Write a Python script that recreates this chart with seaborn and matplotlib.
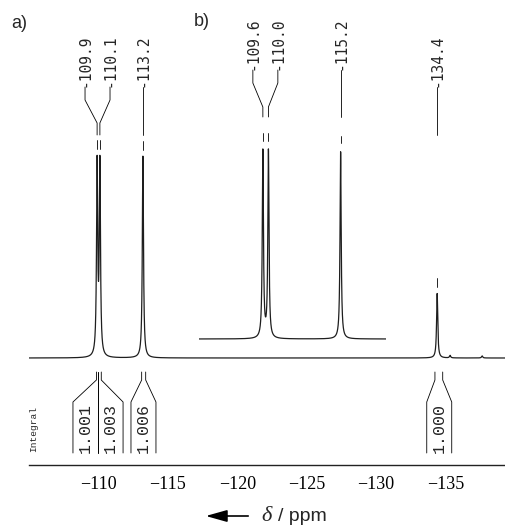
import numpy as np
import pandas as pd
import seaborn as sns
import matplotlib.pyplot as plt

# ---- data ----
# spectrum a): peak positions (ppm) and relative heights
peaks_a_ppm = [-109.9, -110.1, -113.2, -134.4, -135.33, -137.64]
peaks_a_height = [0.92, 0.92, 0.97, 0.31, 0.012, 0.01]
labels_a = ["-109.9", "-110.1", "-113.2", "-134.4"]
labels_a_peak = [-109.9, -110.1, -113.2, -134.4]
labels_a_pos = [-109.03, -110.83, -113.2, -134.4]

# spectrum b) (inset, drawn on its own ppm scale)
peaks_b_ppm = [-109.6, -110.0, -115.2]
peaks_b_height = [0.9, 0.9, 0.9]
labels_b = ["-109.6", "-110.0", "-115.2"]
labels_b_pos = [-108.88, -110.68, -115.2]

# integrals of spectrum a)
int_values = ["1.001", "1.003", "1.006", "1.000"]
int_start = [-109.85, -109.99, -113.11, -134.24]
int_end = [-109.99, -110.2, -113.4, -134.8]
int_box_lo = [-108.16, -109.99, -112.34, -133.65]
int_box_hi = [-109.99, -111.77, -114.14, -135.45]

xticks = [-105, -110, -115, -120, -125, -130, -135]
xtick_labels = ["", "\u2212110", "\u2212115", "\u2212120", "\u2212125", "\u2212130", "\u2212135"]


def lorentz(ppm, centers, heights, hw=0.05):
    y = np.zeros_like(ppm)
    for c, h in zip(centers, heights):
        y += h / (1 + ((ppm - c) / hw) ** 2)
    return y


sns.set_style("white")
plt.rcParams["font.family"] = ["DejaVu Sans"]

W, H = 506, 526
fig = plt.figure(figsize=(W / 100, H / 100), dpi=100)


def fx(px):
    return px / W


def fy(py):
    return 1 - py / H


line_col = "#1e1e1e"

# ---- main spectrum a) ----
ax = fig.add_axes([fx(29.1), fy(465), fx(506) - fx(29.1), fy(0) - fy(465)])
ax.patch.set_alpha(0)
scale = 208.0
ax.set_xlim(-105, -139.36)
ax.set_ylim(-(465 - 358) / scale, 358 / scale)


def ya(py):
    return (358 - py) / scale


ppm_a = np.linspace(-105, -139.36, 40000)
df_a = pd.DataFrame({"ppm": ppm_a, "intensity": lorentz(ppm_a, peaks_a_ppm, peaks_a_height)})
sns.lineplot(data=df_a, x="ppm", y="intensity", ax=ax, color=line_col,
             linewidth=0.9, estimator=None, sort=False)

# peak labels with connectors
for lab, pk, pos in zip(labels_a, labels_a_peak, labels_a_pos):
    ax.plot([pos, pos, pk, pk], [ya(87), ya(100), ya(123), ya(135)],
            color="black", lw=0.6)
    ax.text(pos, ya(87), lab, rotation=90, ha="center", va="bottom",
            family="DejaVu Sans Mono", fontsize=10.5)
# peak pick marks
for pk in labels_a_peak:
    top = lorentz(np.array([pk]), peaks_a_ppm, peaks_a_height)[0]
    ax.plot([pk, pk], [top + 0.03, top + 0.075], color="black", lw=0.6)

# integrals
for val, s, e, lo, hi in zip(int_values, int_start, int_end, int_box_lo, int_box_hi):
    ax.plot([s, s, lo, lo], [ya(372), ya(380), ya(402), ya(453)], color="black", lw=0.6)
    ax.plot([e, e, hi, hi], [ya(372), ya(380), ya(402), ya(453)], color="black", lw=0.6)
    ax.text((lo + hi) / 2, ya(428), val, rotation=90, ha="center", va="center",
            family="Liberation Mono", fontsize=12)

ax.text(fx(34), fy(429), "Integral", transform=fig.transFigure, rotation=90,
        ha="center", va="center", family="Liberation Mono", fontsize=6.8)

sns.despine(ax=ax, left=True)
ax.set_yticks([])
ax.set_xticks(xticks)
ax.set_xticklabels(xtick_labels, family="Liberation Serif", fontsize=13)
ax.tick_params(axis="x", direction="out", length=5, width=1, pad=3, colors="black")
ax.spines["bottom"].set_linewidth(1.0)
ax.spines["bottom"].set_color("#222222")
ax.set_xlabel("")
ax.set_ylabel("")

# ---- inset spectrum b) ----
axb = fig.add_axes([fx(199), fy(345), fx(386) - fx(199), fy(0) - fy(345)])
axb.patch.set_alpha(0)
axb.set_xlim(-105, -118.47)
axb.set_ylim(-(345 - 339) / scale, 339 / scale)


def yb(py):
    return (339 - py) / scale


ppm_b = np.linspace(-105, -118.47, 20000)
df_b = pd.DataFrame({"ppm": ppm_b, "intensity": lorentz(ppm_b, peaks_b_ppm, peaks_b_height)})
sns.lineplot(data=df_b, x="ppm", y="intensity", ax=axb, color=line_col,
             linewidth=0.9, estimator=None, sort=False)
for lab, pk, pos in zip(labels_b, peaks_b_ppm, labels_b_pos):
    axb.plot([pos, pos, pk, pk], [yb(70), yb(83), yb(107), yb(117)],
             color="black", lw=0.6, clip_on=False)
    axb.text(pos, yb(70), lab, rotation=90, ha="center", va="bottom",
             family="DejaVu Sans Mono", fontsize=10.5, clip_on=False)
for pk in peaks_b_ppm:
    top = lorentz(np.array([pk]), peaks_b_ppm, peaks_b_height)[0]
    axb.plot([pk, pk], [top + 0.04, top + 0.075], color="black", lw=0.6)
axb.axis("off")

# ---- panel letters and axis title ----
fig.text(fx(11), fy(24), "a)", family="Liberation Sans", fontsize=13, va="center")
fig.text(fx(194), fy(21), "b)", family="Liberation Sans", fontsize=13, va="center")

fig.add_artist(plt.matplotlib.patches.FancyArrowPatch(
    (fx(251), fy(516)), (fx(203), fy(516)), transform=fig.transFigure,
    arrowstyle="-|>,head_length=1.0,head_width=0.28", mutation_scale=13,
    color="black", lw=1.2))
fig.text(fx(261), fy(521), "\u03b4", family="Liberation Serif", style="italic",
         fontsize=16, va="baseline")
fig.text(fx(278), fy(521), "/ ppm", family="Liberation Sans", fontsize=14, va="baseline")

fig.savefig("out.png", dpi=100)
